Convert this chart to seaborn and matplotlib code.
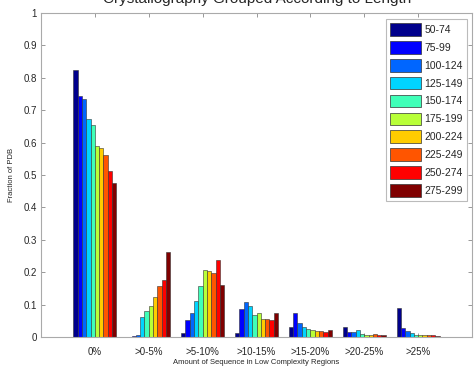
import numpy as np
import pandas as pd
import matplotlib
matplotlib.use("Agg")
import matplotlib.pyplot as plt
import seaborn as sns
from matplotlib.patches import Patch

categories = ["0%", ">0-5%", ">5-10%", ">10-15%", ">15-20%", ">20-25%", ">25%"]
length_bins = ["50-74", "75-99", "100-124", "125-149", "150-174",
               "175-199", "200-224", "225-249", "250-274", "275-299"]

# values per length bin, across the 7 categories
v_50_74   = [0.824, 0.001, 0.013, 0.013, 0.032, 0.030, 0.089]
v_75_99   = [0.744, 0.003, 0.053, 0.087, 0.073, 0.015, 0.029]
v_100_124 = [0.736, 0.007, 0.075, 0.108, 0.042, 0.015, 0.019]
v_125_149 = [0.672, 0.063, 0.111, 0.097, 0.030, 0.021, 0.013]
v_150_174 = [0.655, 0.081, 0.156, 0.068, 0.025, 0.009, 0.007]
v_175_199 = [0.591, 0.096, 0.207, 0.075, 0.022, 0.007, 0.006]
v_200_224 = [0.584, 0.123, 0.204, 0.056, 0.018, 0.007, 0.006]
v_225_249 = [0.561, 0.156, 0.199, 0.056, 0.018, 0.009, 0.006]
v_250_274 = [0.513, 0.176, 0.238, 0.051, 0.015, 0.007, 0.005]
v_275_299 = [0.474, 0.261, 0.159, 0.075, 0.022, 0.007, 0.004]

series = [v_50_74, v_75_99, v_100_124, v_125_149, v_150_174,
          v_175_199, v_200_224, v_225_249, v_250_274, v_275_299]

rows = []
for b, vals in zip(length_bins, series):
    for c, v in zip(categories, vals):
        rows.append({"category": c, "length": b, "fraction": v})
df = pd.DataFrame(rows)

colors = ["#00008c", "#0000ff", "#0066ff", "#00d4ff", "#40ffb8",
          "#b8ff38", "#ffcc00", "#ff5500", "#ff0000", "#800000"]

sns.set_style("white")
plt.rcParams["font.family"] = ["Liberation Sans", "DejaVu Sans"]

fig = plt.figure(figsize=(4.76, 3.67), dpi=100)
ax = fig.add_axes([41/476, 1-337/367, (472-41)/476, (337-13)/367])

sns.barplot(data=df, x="category", y="fraction", hue="length",
            hue_order=length_bins, order=categories, palette=colors,
            width=0.8, saturation=1, dodge=True, ax=ax,
            edgecolor="#333333", linewidth=0.4, legend=False)

ax.set_xlim(-1, 7)
ax.set_ylim(0, 1)
ax.set_yticks(np.arange(0, 1.01, 0.1))
ax.set_yticklabels(["0", "0.1", "0.2", "0.3", "0.4", "0.5", "0.6", "0.7", "0.8", "0.9", "1"])
ax.tick_params(axis="both", direction="in", length=3, width=0.6, color="#888888",
               labelsize=7, top=True, right=True, bottom=True, left=True)
ax.tick_params(axis="x", pad=7)
ax.tick_params(axis="y", pad=3)
for s in ax.spines.values():
    s.set_visible(True)
    s.set_color("#aaaaaa")
    s.set_linewidth(0.8)

ax.set_ylabel("Fraction of PDB", fontsize=5.5, labelpad=6)
ax.set_xlabel("Amount of Sequence in Low Complexity Regions", fontsize=5.5, labelpad=2)

handles = [Patch(facecolor=c, edgecolor="#333333", linewidth=0.5) for c in colors]
leg = ax.legend(handles, length_bins, loc="upper right", bbox_to_anchor=(0.988, 0.982),
                fontsize=7.5, frameon=True, fancybox=False, edgecolor="#aaaaaa",
                handlelength=3.0, handleheight=1.5, labelspacing=0.5,
                handletextpad=0.3, borderpad=0.4, borderaxespad=0)
leg.get_frame().set_linewidth(0.8)

fig.text(257/476, 1-3/367, "Crystallography Grouped According to Length",
         ha="center", va="baseline", fontsize=11)

fig.savefig("out.png", dpi=100)
